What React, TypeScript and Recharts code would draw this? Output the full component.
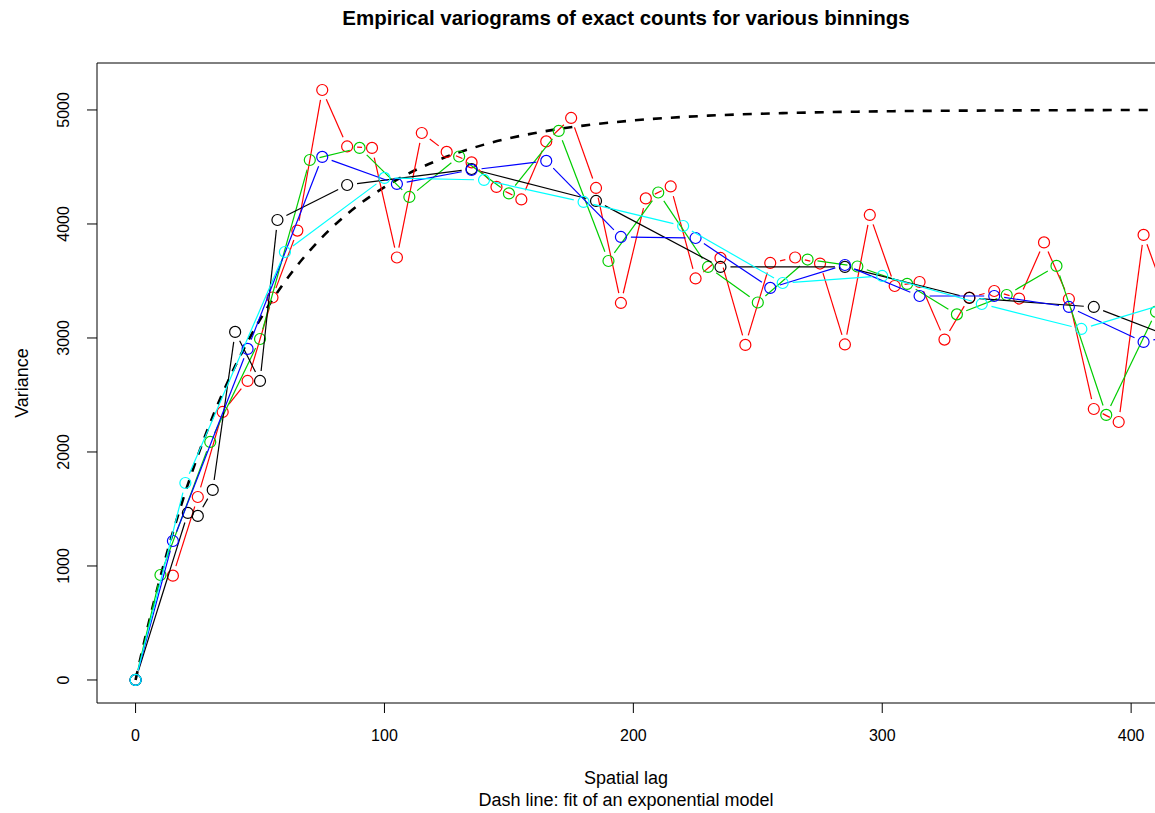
import React from 'react'
import { LineChart, Line, XAxis, YAxis, ReferenceArea } from 'recharts'

// bins of width 10
const redLag = [15, 25, 35, 45, 55, 65, 75, 85, 95, 105, 115, 125, 135, 145, 155, 165, 175, 185, 195, 205, 215, 225, 235, 245, 255, 265, 275, 285, 295, 305, 315, 325, 335, 345, 355, 365, 375, 385, 395, 405, 415]
const redVar = [915, 1605, 2351, 2623, 3355, 3942, 5175, 4680, 4667, 3706, 4798, 4632, 4540, 4325, 4215, 4724, 4930, 4316, 3307, 4224, 4329, 3522, 3702, 2939, 3658, 3706, 3653, 2943, 4079, 3456, 3491, 2986, 3355, 3412, 3346, 3838, 3342, 2377, 2263, 3904, 3300]

// bins of width 20
const greenLag = [0, 10, 30, 50, 70, 90, 110, 130, 150, 170, 190, 210, 230, 250, 270, 290, 310, 330, 350, 370, 390, 410]
const greenVar = [0, 921, 2088, 2991, 4561, 4667, 4237, 4592, 4268, 4816, 3675, 4276, 3623, 3311, 3688, 3627, 3474, 3207, 3377, 3632, 2325, 3230]

// irregular bins
const blackLag = [0, 21, 25, 31, 40, 50, 57, 85, 135, 185, 235, 285, 335, 385, 435]
const blackVar = [0, 1465, 1439, 1667, 3053, 2623, 4035, 4342, 4482, 4202, 3623, 3623, 3351, 3272, 2850]

// bins of width 30
const blueLag = [0, 15, 45, 75, 105, 135, 165, 195, 225, 255, 285, 315, 345, 375, 405, 435]
const blueVar = [0, 1219, 2904, 4588, 4351, 4474, 4553, 3886, 3877, 3439, 3640, 3368, 3368, 3272, 2965, 3100]

// bins of width 40
const cyanLag = [0, 20, 60, 100, 140, 180, 220, 260, 300, 340, 380, 420]
const cyanVar = [0, 1728, 3754, 4404, 4386, 4193, 3982, 3482, 3544, 3298, 3079, 3340]

// fitted exponential model
const fitLag = [0, 5, 10, 15, 20, 30, 40, 50, 60, 70, 80, 90, 100, 110, 120, 140, 160, 180, 200, 230, 260, 300, 350, 412]
const fitVar = [0, 476, 906, 1296, 1648, 2256, 2753, 3161, 3494, 3767, 3991, 4174, 4323, 4446, 4546, 4696, 4796, 4863, 4908, 4950, 4972, 4988, 4996, 5000]

const xTicks = [0, 100, 200, 300, 400]
const yTicks = [0, 1000, 2000, 3000, 4000, 5000]

const toRows = (lag: number[], v: number[]) => lag.map((x, i) => ({ x, v: v[i] }))

const series = [
  { name: 'red', color: '#FF0000', data: toRows(redLag, redVar) },
  { name: 'green', color: '#00CD00', data: toRows(greenLag, greenVar) },
  { name: 'black', color: '#000000', data: toRows(blackLag, blackVar) },
  { name: 'blue', color: '#0000FF', data: toRows(blueLag, blueVar) },
  { name: 'cyan', color: '#00FFFF', data: toRows(cyanLag, cyanVar) },
]
const fitData = toRows(fitLag, fitVar)

const FONT = '"Liberation Sans", Arial, Helvetica, sans-serif'
const GAP = 10

// like R's type="b": a circle, plus the segment to the next point with a gap at both ends
const makeDot = (color: string) => (props: any) => {
  const { cx, cy, index, points } = props
  const next = points && points[index + 1]
  let seg = null
  if (next && next.x != null && next.y != null && cx != null && cy != null) {
    const dx = next.x - cx
    const dy = next.y - cy
    const len = Math.hypot(dx, dy)
    if (len > 2 * GAP) {
      const ux = dx / len
      const uy = dy / len
      seg = (
        <line x1={cx + ux * GAP} y1={cy + uy * GAP} x2={next.x - ux * GAP} y2={next.y - uy * GAP}
          stroke={color} strokeWidth={1.2} />
      )
    }
  }
  return (
    <g key={`d-${index}`}>
      <circle cx={cx} cy={cy} r={5.5} fill="none" stroke={color} strokeWidth={1.2} />
      {seg}
    </g>
  )
}

const XTick = (props: any) => {
  const { x, payload } = props
  return (
    <text x={x} y={741} textAnchor="middle" fontSize={16} fontFamily={FONT} fill="#000">
      {payload.value}
    </text>
  )
}

const YTick = (props: any) => {
  const { y, payload } = props
  return (
    <text x={69} y={y} transform={`rotate(-90, 69, ${y})`} textAnchor="middle" fontSize={16} fontFamily={FONT} fill="#000">
      {payload.value}
    </text>
  )
}

export default function App() {
  return (
    <div style={{ position: 'absolute', left: 0, top: 0, width: 1155, height: 813, overflow: 'hidden', background: '#fff' }}>
      <LineChart width={1200} height={813} margin={{ top: 63, right: 40, bottom: 70, left: 37 }}>
        <XAxis
          type="number"
          dataKey="x"
          domain={[-15.5, 411.6]}
          ticks={xTicks}
          allowDataOverflow
          axisLine={false}
          tickSize={10}
          tickLine={{ stroke: '#000' }}
          tick={<XTick />}
          height={40}
        />
        <YAxis
          type="number"
          domain={[-202, 5412]}
          ticks={yTicks}
          allowDataOverflow
          axisLine={false}
          tickSize={10}
          tickLine={{ stroke: '#000' }}
          tick={<YTick />}
          width={60}
        />
        <ReferenceArea x1={-15.5} x2={411.6} y1={-202} y2={5412} fill="none" stroke="#000" strokeWidth={1} ifOverflow="visible" />
        {series.map((s) => (
          <Line
            key={s.name}
            data={s.data}
            dataKey="v"
            type="linear"
            stroke="none"
            dot={makeDot(s.color)}
            activeDot={false}
            isAnimationActive={false}
          />
        ))}
        <Line
          data={fitData}
          dataKey="v"
          type="monotone"
          stroke="#000"
          strokeWidth={2.6}
          strokeDasharray="9 9"
          dot={false}
          activeDot={false}
          isAnimationActive={false}
        />
      </LineChart>
      <svg width={1155} height={813} style={{ position: 'absolute', left: 0, top: 0, pointerEvents: 'none' }}>
        <text x={626} y={25} textAnchor="middle" fontSize={20.5} fontWeight="bold" fontFamily={FONT} fill="#000">
          Empirical variograms of exact counts for various binnings
        </text>
        <text x={626} y={784} textAnchor="middle" fontSize={18} fontFamily={FONT} fill="#000">
          Spatial lag
        </text>
        <text x={626} y={806} textAnchor="middle" fontSize={18} fontFamily={FONT} fill="#000">
          Dash line: fit of an exponential model
        </text>
        <text x={28} y={383} transform="rotate(-90, 28, 383)" textAnchor="middle" fontSize={18} fontFamily={FONT} fill="#000">
          Variance
        </text>
      </svg>
    </div>
  )
}
